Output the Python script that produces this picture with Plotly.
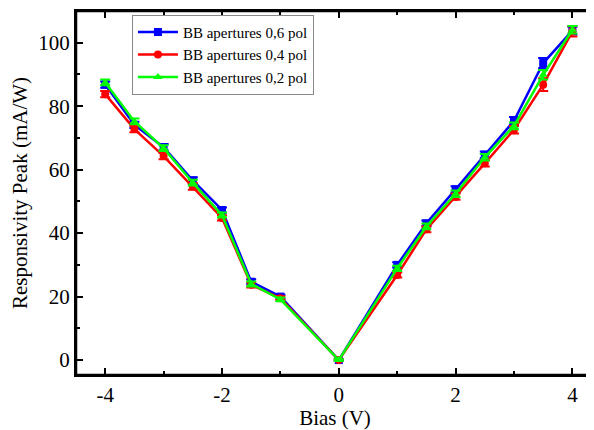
import plotly.graph_objects as go

bias = [-4, -3.5, -3, -2.5, -2, -1.5, -1, 0, 1, 1.5, 2, 2.5, 3, 3.5, 4]

resp_06 = [86.8, 74.1, 67.1, 56.6, 47.3, 24.7, 20.0, 0, 30.0, 43.1, 53.8, 64.7, 75.4, 93.6, 103.8]
resp_04 = [83.8, 72.8, 64.3, 54.7, 44.8, 23.7, 19.5, 0, 26.8, 41.2, 51.5, 62.0, 72.6, 86.8, 103.6]
resp_02 = [87.5, 75.2, 66.8, 55.9, 45.7, 24.0, 19.1, 0, 28.9, 42.1, 52.4, 63.9, 73.8, 89.9, 104.1]

err_06 = [1.0, 1.0, 1.0, 1.0, 0.8, 0.8, 0.6, 0.3, 0.8, 0.9, 1.0, 1.0, 1.2, 1.6, 1.2]
err_04 = [1.0, 1.0, 1.0, 1.0, 0.8, 0.8, 0.6, 0.3, 0.8, 0.9, 1.0, 1.0, 1.2, 2.0, 1.6]
err_02 = [0.9, 0.9, 0.9, 0.9, 0.8, 0.8, 0.6, 0.3, 0.8, 0.9, 1.0, 1.0, 1.1, 1.5, 1.2]

names = ["BB apertures 0,6 pol", "BB apertures 0,4 pol", "BB apertures 0,2 pol"]
colors = ["#0000FF", "#FF0000", "#00FF00"]
symbols = ["square", "circle", "triangle-up"]

fig = go.Figure()
for name, ys, errs, col, sym in zip(names, [resp_06, resp_04, resp_02],
                                    [err_06, err_04, err_02], colors, symbols):
    fig.add_trace(go.Scatter(
        x=bias, y=ys, name=name, mode="lines+markers",
        line=dict(color=col, width=2.5),
        marker=dict(symbol=sym, size=8, color=col),
        error_y=dict(type="data", array=errs, color=col, thickness=2, width=5),
    ))

FF = "Liberation Serif"

# frame lines (left, bottom, top) in paper coordinates
for x0, y0, x1, y1 in [(0, 0, 0, 1), (0, 0, 1, 0), (0, 1, 1, 1)]:
    fig.add_shape(type="line", xref="paper", yref="paper",
                  x0=x0, y0=y0, x1=x1, y1=y1,
                  line=dict(color="black", width=2.5), layer="above")

# page body has an 8px margin, so the figure is 8px smaller than the window
fig.update_layout(
    width=586, height=422,
    margin=dict(l=68, r=0, t=3, b=55, autoexpand=False),
    paper_bgcolor="white", plot_bgcolor="white",
    font=dict(family=FF, size=20, color="black"),
    showlegend=True,
    legend=dict(
        x=0.108, y=0.99, xanchor="left", yanchor="top",
        bgcolor="white", bordercolor="#888888", borderwidth=1,
        font=dict(family=FF, size=15, color="black"),
        tracegroupgap=0, itemwidth=40,
    ),
    xaxis=dict(
        range=[-4.5, 4.37], tickmode="array", tickvals=[-4, -2, 0, 2, 4],
        ticktext=["-4", "-2", "0", "2", "4"],
        ticks="inside", ticklen=7, tickwidth=2, tickcolor="black",
        minor=dict(tickvals=[-3, -1, 1, 3], ticks="inside", ticklen=4,
                   tickwidth=2, tickcolor="black"),
        showline=True, linecolor="black", linewidth=2, mirror="ticks",
        showgrid=False, zeroline=False, automargin=False,
        title=dict(text="Bias (V)", font=dict(family=FF, size=21, color="black"), standoff=4),
        tickfont=dict(family=FF, size=21, color="black"),
    ),
    yaxis=dict(
        range=[-4.7, 110], tickmode="array", tickvals=[0, 20, 40, 60, 80, 100],
        ticks="inside", ticklen=7, tickwidth=2, tickcolor="black",
        minor=dict(tickvals=[10, 30, 50, 70, 90, 110], ticks="inside", ticklen=4,
                   tickwidth=2, tickcolor="black"),
        showline=True, linecolor="black", linewidth=2, mirror=False,
        showgrid=False, zeroline=False, automargin=False,
        title=dict(text="Responsivity Peak (mA/W)", font=dict(family=FF, size=21, color="black"), standoff=8),
        tickfont=dict(family=FF, size=21, color="black"),
    ),
)

fig.write_html("out.html")
